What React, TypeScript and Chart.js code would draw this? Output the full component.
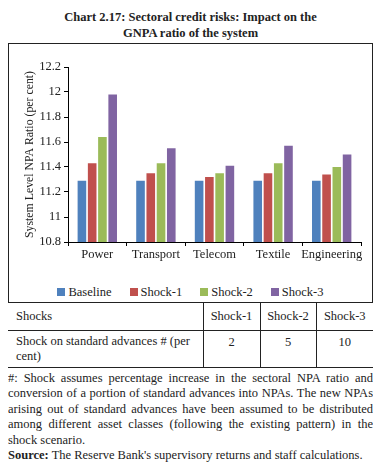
import React, { useEffect, useRef } from "react";
import { Chart, registerables } from "chart.js";

Chart.register(...registerables);

const categories = ["Power", "Transport", "Telecom", "Textile", "Engineering"];
const seriesNames = ["Baseline", "Shock-1", "Shock-2", "Shock-3"];
const baseline = [11.29, 11.29, 11.29, 11.29, 11.29];
const shock1 = [11.43, 11.35, 11.32, 11.35, 11.34];
const shock2 = [11.64, 11.43, 11.35, 11.43, 11.4];
const shock3 = [11.98, 11.55, 11.41, 11.57, 11.5];
const colors = ["#4F81BD", "#C0504D", "#9BBB59", "#8064A2"];

const tableHeader = ["Shocks", "Shock-1", "Shock-2", "Shock-3"];
const tableRow = ["Shock on standard advances # (per cent)", "2", "5", "10"];

const FONT = "'Liberation Serif', 'DejaVu Serif', serif";

export default function App() {
  const canvasRef = useRef<HTMLCanvasElement | null>(null);

  useEffect(() => {
    if (!canvasRef.current) return;
    const values = [baseline, shock1, shock2, shock3];
    const chart = new Chart(canvasRef.current, {
      type: "bar",
      data: {
        labels: categories,
        datasets: seriesNames.map((name, i) => ({
          label: name,
          data: values[i],
          backgroundColor: colors[i],
          barPercentage: 0.84,
          categoryPercentage: 0.7,
        })),
      },
      options: {
        animation: false,
        responsive: false,
        maintainAspectRatio: false,
        layout: { padding: { top: 23, left: 9, right: 10, bottom: 0 } },
        plugins: {
          legend: { display: false },
          tooltip: { enabled: false },
        },
        scales: {
          y: {
            min: 10.8,
            max: 12.2,
            ticks: {
              stepSize: 0.2,
              color: "#222",
              font: { family: FONT, size: 12.5 },
              padding: 3,
              callback: (v: any) => String(Number(Number(v).toFixed(1))),
            },
            grid: {
              display: true,
              drawOnChartArea: false,
              drawTicks: true,
              tickLength: 4,
              color: "#000",
            },
            border: { display: true, color: "#000", width: 1 },
            title: {
              display: true,
              text: "System Level NPA Ratio (per cent)",
              color: "#222",
              font: { family: FONT, size: 11.8 },
              padding: { top: 5, bottom: 2 },
            },
            afterFit: (scale: any) => {
              scale.width = 50;
            },
          },
          x: {
            ticks: {
              color: "#222",
              font: { family: FONT, size: 12.5 },
              padding: 1,
              maxRotation: 0,
              autoSkip: false,
            },
            grid: {
              display: true,
              drawOnChartArea: false,
              drawTicks: true,
              tickLength: 4,
              color: "#000",
              offset: true,
            },
            border: { display: true, color: "#000", width: 1 },
            afterFit: (scale: any) => {
              scale.height = 32;
            },
          },
        },
      },
    });
    return () => chart.destroy();
  }, []);

  const cellBorder = "1.5px solid #222";

  return (
    <div style={{ width: 365, fontFamily: FONT, color: "#222" }}>
      <div
        style={{
          textAlign: "center",
          fontWeight: "bold",
          fontSize: 12.5,
          lineHeight: "16px",
          marginTop: 1,
        }}
      >
        Chart 2.17: Sectoral credit risks: Impact on the
        <br />
        GNPA ratio of the system
      </div>
      <div
        style={{
          marginTop: 2,
          width: 365,
          height: 260,
          boxSizing: "border-box",
          border: "1.5px solid #222",
          position: "relative",
        }}
      >
        <canvas ref={canvasRef} width={362} height={230} style={{ display: "block" }} />
        <div
          style={{
            position: "absolute",
            left: 0,
            right: 0,
            top: 240,
            display: "flex",
            justifyContent: "center",
            gap: 18,
            fontSize: 12.5,
            lineHeight: "16px",
          }}
        >
          {seriesNames.map((name, i) => (
            <div key={name} style={{ display: "flex", alignItems: "center" }}>
              <span
                style={{
                  display: "inline-block",
                  width: 8,
                  height: 8,
                  background: colors[i],
                  marginRight: 3,
                }}
              />
              <span>{name}</span>
            </div>
          ))}
        </div>
      </div>
      <table
        style={{
          width: 365,
          borderCollapse: "collapse",
          fontSize: 12.5,
          tableLayout: "fixed",
        }}
      >
        <colgroup>
          <col style={{ width: 195 }} />
          <col style={{ width: 57 }} />
          <col style={{ width: 56 }} />
          <col style={{ width: 57 }} />
        </colgroup>
        <tbody>
          <tr style={{ height: 27 }}>
            {tableHeader.map((t, i) => (
              <td
                key={t}
                style={{
                  borderBottom: cellBorder,
                  borderLeft: i > 0 ? cellBorder : "none",
                  textAlign: i === 0 ? "left" : "center",
                  padding: i === 0 ? "0 4px 0 8px" : 0,
                  lineHeight: "15px",
                }}
              >
                {t}
              </td>
            ))}
          </tr>
          <tr style={{ height: 37 }}>
            {tableRow.map((t, i) => (
              <td
                key={i}
                style={{
                  borderBottom: cellBorder,
                  borderLeft: i > 0 ? cellBorder : "none",
                  textAlign: i === 0 ? "left" : "center",
                  verticalAlign: i === 0 ? "middle" : "top",
                  padding: i === 0 ? "2px 4px 2px 8px" : "4px 0 0 0",
                  lineHeight: "15px",
                }}
              >
                {t}
              </td>
            ))}
          </tr>
        </tbody>
      </table>
      <div
        style={{
          marginTop: 3,
          fontSize: 12.5,
          lineHeight: "15.6px",
          textAlign: "justify",
        }}
      >
        #: Shock assumes percentage increase in the sectoral NPA ratio and conversion of a portion of
        standard advances into NPAs. The new NPAs arising out of standard advances have been assumed to
        be distributed among different asset classes (following the existing pattern) in the shock
        scenario.
        <div style={{ whiteSpace: "nowrap" }}>
          <b>Source:</b> The Reserve Bank's supervisory returns and staff calculations.
        </div>
      </div>
    </div>
  );
}
